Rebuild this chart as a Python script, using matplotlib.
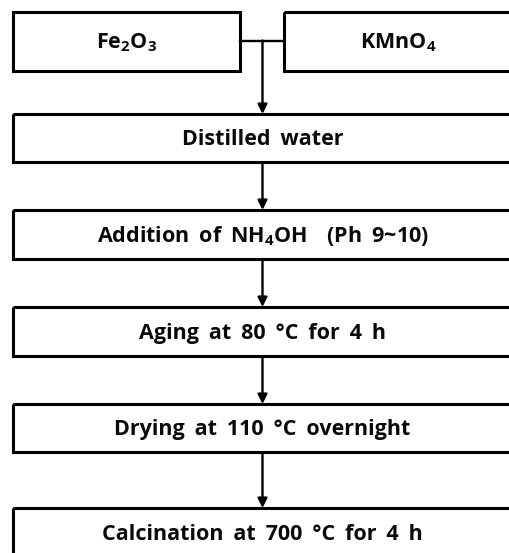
import matplotlib.pyplot as plt
from matplotlib.patches import Rectangle

# flowchart text
sources = [r"Fe$_2$O$_3$", r"KMnO$_4$"]
steps = [
    "Distilled water",
    r"Addition of NH$_4$OH  (Ph 9~10)",
    "Aging at 80 °C for 4 h",
    "Drying at 110 °C overnight",
    "Calcination at 700 °C for 4 h",
]

# layout in pixels (y grows downwards)
W, H = 510, 553
src_x = [(13, 240), (284, 512)]
src_y = (11.5, 70.5)
step_x = (13, 512)
step_y = [(114, 162), (210, 259), (307, 356), (404, 452), (508, 557)]
arrow_x = 262.5

plt.rcParams['font.family'] = ['Open Sans', 'DejaVu Sans']
plt.rcParams['font.weight'] = 'bold'
plt.rcParams['mathtext.fontset'] = 'custom'
plt.rcParams['mathtext.rm'] = 'Open Sans:bold'
plt.rcParams['mathtext.default'] = 'rm'

fig = plt.figure(figsize=(W / 100, H / 100), dpi=100)
ax = fig.add_axes([0, 0, 1, 1])
ax.set_xlim(0, W)
ax.set_ylim(H, 0)
ax.axis('off')

box_lw = 2.2
line_lw = 1.7
fs = 15.5


def wide(s):
    # the original font has wider word spacing
    return s.replace(' ', ' \u2009') if '$' not in s.split(' ')[0] else s


def box(x0, x1, y0, y1, label):
    ax.add_patch(Rectangle((x0, y0), x1 - x0, y1 - y0, fill=False,
                           lw=box_lw, ec='black', joinstyle='miter'))
    ax.text((x0 + x1) / 2, (y0 + y1) / 2 + 1.5, wide(label), ha='center',
            va='center', fontsize=fs, fontweight='bold', color='#0a0a0a')


def arrow(y0, y1):
    ax.annotate('', xy=(arrow_x, y1), xytext=(arrow_x, y0),
                arrowprops=dict(arrowstyle='-|>', lw=line_lw, color='black',
                                mutation_scale=14, shrinkA=0, shrinkB=0))


for (x0, x1), lab in zip(src_x, sources):
    box(x0, x1, src_y[0], src_y[1], lab)

# junction between the two source boxes
yj = (src_y[0] + src_y[1]) / 2 - 0.5
ax.plot([src_x[0][1], src_x[1][0]], [yj, yj], color='black', lw=line_lw)
arrow(yj, step_y[0][0])

for i, ((y0, y1), lab) in enumerate(zip(step_y, steps)):
    box(step_x[0], step_x[1], y0, y1, lab)
    if i + 1 < len(step_y):
        arrow(y1, step_y[i + 1][0])

fig.savefig('out.png', dpi=100)
